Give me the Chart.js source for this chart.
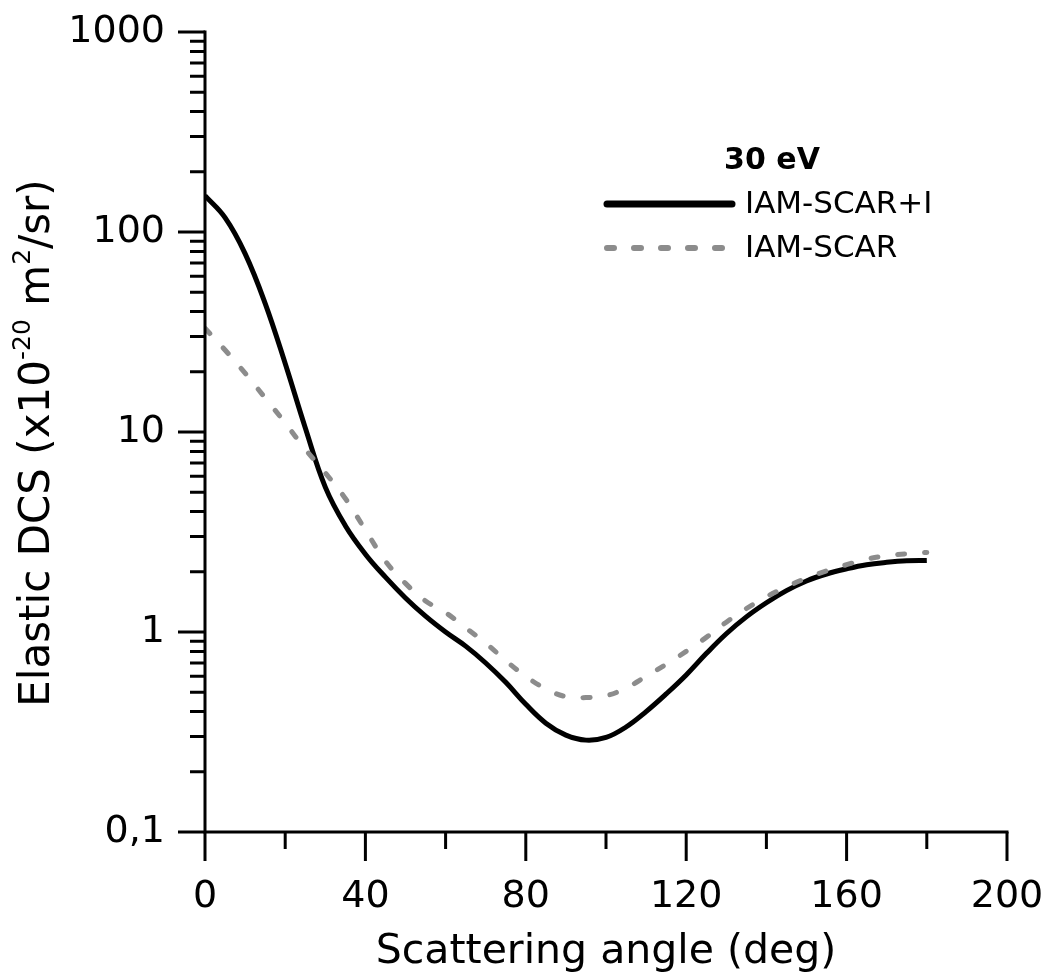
<!DOCTYPE html>
<html>
<head>
<meta charset="utf-8">
<script src="https://cdn.jsdelivr.net/npm/chart.js@4"></script>
<style>
  html, body { margin: 0; padding: 0; background: #fff; }
  #wrap { width: 1049px; height: 979px; }
</style>
</head>
<body>
<div id="wrap"><canvas id="dcs"></canvas></div>
<script>
// scattering angle (deg)
const angles = [0, 5, 10, 15, 20, 25, 30, 35, 40, 45, 50, 55, 60, 65, 70, 75, 80, 85, 90,
  95, 100, 105, 110, 115, 120, 125, 130, 135, 140, 145, 150, 155, 160, 165, 170, 175, 180];

// elastic DCS (x10^-20 m2/sr)
const iamScarI = [152, 118, 78, 44, 22, 10.5, 5.3, 3.4, 2.45, 1.88, 1.48, 1.2, 1.0, 0.85, 0.7, 0.56, 0.435, 0.35, 0.305,
  0.288, 0.297, 0.335, 0.4, 0.49, 0.61, 0.78, 0.98, 1.19, 1.4, 1.61, 1.8, 1.95, 2.07, 2.17, 2.23, 2.27, 2.28];
const iamScar = [33, 25.7, 19.7, 14.8, 11.1, 8.2, 6.25, 4.65, 3.24, 2.26, 1.75, 1.43, 1.25, 1.05, 0.88, 0.72, 0.6, 0.52, 0.475,
  0.47, 0.48, 0.525, 0.6, 0.69, 0.8, 0.94, 1.12, 1.31, 1.5, 1.68, 1.86, 2.02, 2.17, 2.31, 2.41, 2.46, 2.5];

const seriesNames = ['IAM-SCAR+I', 'IAM-SCAR'];
const legendTitle = '30 eV';

const xTicks = [0, 40, 80, 120, 160, 200];
const xMinorTicks = [20, 60, 100, 140, 180];
const yTicks = [0.1, 1, 10, 100, 1000];
const yTickLabels = ['0,1', '1', '10', '100', '1000'];

const FONT = 'DejaVu Sans';

const toPoints = (vals) => vals.map((v, i) => ({x: angles[i], y: v}));

const noPad = s => { s.paddingTop = 0; s.paddingBottom = 0; s.paddingLeft = 0; s.paddingRight = 0; };

// axis lines + outer tick marks
const axisTicks = {
  id: 'axisTicks',
  afterDraw(chart) {
    const {ctx, chartArea: a, scales: {x, y}} = chart;
    ctx.save();
    ctx.strokeStyle = '#000';
    ctx.lineWidth = 3;
    ctx.lineCap = 'square';
    ctx.beginPath();
    ctx.moveTo(a.left, a.top);
    ctx.lineTo(a.left, a.bottom);
    ctx.lineTo(a.right, a.bottom);
    ctx.stroke();
    ctx.lineCap = 'butt';
    ctx.beginPath();
    xTicks.forEach(v => { const p = x.getPixelForValue(v); ctx.moveTo(p, a.bottom); ctx.lineTo(p, a.bottom + 29); });
    xMinorTicks.forEach(v => { const p = x.getPixelForValue(v); ctx.moveTo(p, a.bottom); ctx.lineTo(p, a.bottom + 17); });
    yTicks.forEach(v => { const p = y.getPixelForValue(v); ctx.moveTo(a.left - 27, p); ctx.lineTo(a.left, p); });
    yTicks.slice(0, -1).forEach(d => {
      for (let k = 2; k <= 9; k++) {
        const p = y.getPixelForValue(k * d);
        ctx.moveTo(a.left - 15, p); ctx.lineTo(a.left, p);
      }
    });
    ctx.stroke();

    // y title with superscripts
    const parts = [
      ['Elastic DCS (x10', 42, 0],
      ['-20', 25, -15],
      [' m', 42, 0],
      ['2', 25, -15],
      ['/sr)', 42, 0]
    ];
    let total = 0;
    parts.forEach(p => { ctx.font = p[1] + 'px "' + FONT + '"'; total += ctx.measureText(p[0]).width; });
    ctx.translate(38, 443);
    ctx.rotate(-Math.PI / 2);
    ctx.fillStyle = '#000';
    ctx.textBaseline = 'middle';
    let cx = -total / 2;
    parts.forEach(p => {
      ctx.font = p[1] + 'px "' + FONT + '"';
      ctx.fillText(p[0], cx, p[2]);
      cx += ctx.measureText(p[0]).width;
    });
    ctx.restore();
  }
};

// legend inside plot
const insideLegend = {
  id: 'insideLegend',
  afterDatasetsDraw(chart) {
    const {ctx} = chart;
    ctx.save();
    ctx.fillStyle = '#000';
    ctx.textBaseline = 'middle';
    ctx.textAlign = 'center';
    ctx.font = 'bold 30px "' + FONT + '"';
    ctx.fillText(legendTitle, 772, 161);
    ctx.textAlign = 'left';
    ctx.font = '31px "' + FONT + '"';
    const rows = [204, 248];
    chart.data.datasets.forEach((ds, i) => {
      const yy = rows[i];
      ctx.strokeStyle = ds.borderColor;
      ctx.lineWidth = i === 0 ? 7 : 6;
      ctx.lineCap = 'round';
      ctx.setLineDash(ds.borderDash || []);
      ctx.beginPath();
      ctx.moveTo(607, yy);
      ctx.lineTo(i === 0 ? 732 : 722, yy);
      ctx.stroke();
      ctx.setLineDash([]);
      ctx.fillStyle = '#000';
      ctx.fillText(ds.label, 745, yy + 1);
    });
    ctx.restore();
  }
};

new Chart(document.getElementById('dcs'), {
  type: 'line',
  data: {
    datasets: [
      {
        label: seriesNames[0],
        data: toPoints(iamScarI),
        borderColor: '#000000',
        borderWidth: 5,
        pointRadius: 0,
        tension: 0.4,
        order: 2
      },
      {
        label: seriesNames[1],
        data: toPoints(iamScar),
        borderColor: '#8c8c8c',
        borderWidth: 5,
        borderDash: [7, 20],
        borderCapStyle: 'round',
        pointRadius: 0,
        tension: 0.4,
        order: 1
      }
    ]
  },
  options: {
    responsive: true,
    maintainAspectRatio: false,
    animation: false,
    devicePixelRatio: 1,
    layout: { padding: { top: 32, right: 42, bottom: 0, left: 0 } },
    plugins: { legend: { display: false }, tooltip: { enabled: false } },
    scales: {
      x: {
        type: 'linear',
        min: 0,
        max: 200,
        afterBuildTicks: s => { s.ticks = xTicks.map(v => ({value: v})); },
        afterFit: s => { s.height = 147; noPad(s); },
        grid: { display: false, drawTicks: false },
        border: { display: false },
        ticks: {
          padding: 42,
          color: '#000',
          maxRotation: 0,
          font: { family: FONT, size: 38 },
          callback: v => String(v)
        },
        title: {
          display: true,
          text: 'Scattering angle (deg)',
          color: '#000',
          font: { family: FONT, size: 41 },
          padding: { top: 0, bottom: 2 }
        }
      },
      y: {
        type: 'logarithmic',
        min: 0.1,
        max: 1000,
        afterBuildTicks: s => { s.ticks = yTicks.map(v => ({value: v})); },
        afterFit: s => { s.width = 205; noPad(s); },
        grid: { display: false, drawTicks: false },
        border: { display: false },
        ticks: {
          padding: 40,
          color: '#000',
          font: { family: FONT, size: 38 },
          callback: (v, i) => yTickLabels[i]
        },
        title: { display: false }
      }
    }
  },
  plugins: [axisTicks, insideLegend]
});
</script>
</body>
</html>
